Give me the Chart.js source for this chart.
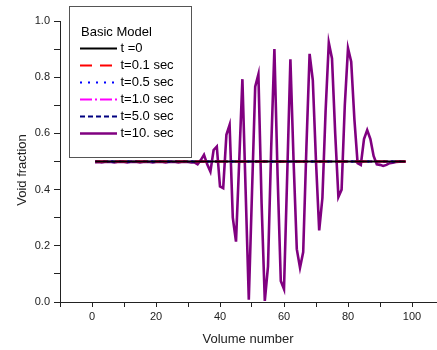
<!DOCTYPE html>
<html>
<head>
<meta charset="utf-8">
<script src="https://cdn.jsdelivr.net/npm/chart.js@4.4.0/dist/chart.umd.min.js"></script>
<style>
  html, body { margin: 0; padding: 0; background: #fff; overflow: hidden; }
  #wrap { width: 437px; height: 350px; }
</style>
</head>
<body>
<div id="wrap"><canvas id="voidChart" width="437" height="350"></canvas></div>
<script>
// data
const seriesLabels = ["t =0", "t=0.1 sec", "t=0.5 sec", "t=1.0 sec", "t=5.0 sec", "t=10. sec"];
const legendTitle = "Basic Model";
const xTitle = "Volume number";
const yTitle = "Void fraction";

// volume numbers 1..98 for the t=10 sec curve
const volumeNumbers = Array.from({ length: 98 }, (_, i) => i + 1);

// the early-time curves are flat lines at 0.5 from volume 1 to volume 98
const flatEnds = [1, 98];
const flatLevel = [0.5, 0.5];

const voidT10 = [
  0.497, 0.498, 0.497, 0.498, 0.499, 0.498, 0.497, 0.498, 0.499, 0.498,
  0.497, 0.498, 0.499, 0.498, 0.497, 0.498, 0.499, 0.498, 0.497, 0.498,
  0.499, 0.498, 0.497, 0.498, 0.499, 0.498, 0.497, 0.498, 0.499, 0.498,
  0.497, 0.497, 0.490, 0.505, 0.524, 0.490, 0.464, 0.541, 0.553, 0.411,
  0.405, 0.595, 0.630, 0.300, 0.215, 0.500, 0.793, 0.400, 0.008, 0.390,
  0.766, 0.810, 0.350, 0.004, 0.127, 0.550, 0.900, 0.450, 0.075, 0.046,
  0.450, 0.864, 0.500, 0.188, 0.122, 0.178, 0.550, 0.883, 0.790, 0.500,
  0.255, 0.370, 0.680, 0.923, 0.867, 0.600, 0.374, 0.400, 0.700, 0.903,
  0.855, 0.650, 0.494, 0.488, 0.580, 0.612, 0.580, 0.520, 0.490, 0.488,
  0.484, 0.488, 0.494, 0.496, 0.498, 0.499, 0.499, 0.499
];

const xTicks = [-10, 0, 10, 20, 30, 40, 50, 60, 70, 80, 90, 100];
const yTicks = [0, 0.1, 0.2, 0.3, 0.4, 0.5, 0.6, 0.7, 0.8, 0.9, 1.0];

// styles
const colors = ["#000000", "#ff0000", "#0000ff", "#ff00ff", "#000080", "#800080"];
const dashes = [[], [12, 8], [2, 6], [12, 3, 2, 3], [5, 3], []];
const widths = [2, 2, 2, 2, 2, 2.6];
const fontFam = "'Liberation Sans', Arial, sans-serif";

function pts(xs, ys) {
  return xs.map((x, i) => ({ x: x, y: ys[i] }));
}

const datasets = seriesLabels.map((label, i) => ({
  label: label,
  data: i === 5 ? pts(volumeNumbers, voidT10) : pts(flatEnds, flatLevel),
  borderColor: colors[i],
  borderDash: dashes[i],
  borderWidth: widths[i],
  pointRadius: 0,
  tension: 0,
  fill: false
}));

const boxLegend = {
  id: "boxLegend",
  afterDraw(chart) {
    const ctx = chart.ctx;
    ctx.save();
    // y axis title
    ctx.fillStyle = "#222";
    ctx.font = "13px " + fontFam;
    ctx.textAlign = "center";
    ctx.textBaseline = "middle";
    ctx.translate(22, 170);
    ctx.rotate(-Math.PI / 2);
    ctx.fillText(yTitle, 0, 0);
    ctx.restore();

    ctx.save();
    ctx.fillStyle = "#fff";
    ctx.fillRect(69.5, 6.5, 122, 151);
    ctx.strokeStyle = "#555";
    ctx.lineWidth = 1;
    ctx.strokeRect(69.5, 6.5, 122, 151);
    ctx.fillStyle = "#000";
    ctx.font = "13px " + fontFam;
    ctx.textBaseline = "middle";
    ctx.fillText(legendTitle, 81, 32);
    seriesLabels.forEach((label, i) => {
      const y = 48.5 + i * 17;
      ctx.beginPath();
      ctx.setLineDash(dashes[i]);
      ctx.strokeStyle = colors[i];
      ctx.lineWidth = widths[i];
      ctx.moveTo(80, y);
      ctx.lineTo(117, y);
      ctx.stroke();
      ctx.setLineDash([]);
      ctx.fillStyle = "#000";
      ctx.fillText(label, 120.5, y);
    });
    ctx.restore();
  }
};

const ctx = document.getElementById("voidChart").getContext("2d");
window.voidChart = new Chart(ctx, {
  type: "line",
  data: { datasets: datasets },
  options: {
    responsive: false,
    animation: false,
    layout: { padding: { top: 21, right: 1, left: 0, bottom: 0 } },
    plugins: {
      legend: { display: false },
      tooltip: { enabled: false }
    },
    scales: {
      x: {
        type: "linear",
        min: -10,
        max: 107.5,
        afterBuildTicks: (scale) => { scale.ticks = xTicks.map(v => ({ value: v })); },
        afterFit: (scale) => { scale.height = 48; },
        grid: { drawOnChartArea: false, tickLength: 5, tickColor: "#222" },
        border: { color: "#222", width: 1 },
        ticks: {
          autoSkip: false,
          maxRotation: 0,
          padding: 3,
          color: "#222",
          font: { family: fontFam, size: 11 },
          callback: (v) => (v % 20 === 0 && v >= 0 ? String(v) : "")
        },
        title: {
          display: true,
          text: xTitle,
          color: "#222",
          font: { family: fontFam, size: 13 },
          padding: { top: 0, bottom: 3 }
        }
      },
      y: {
        min: 0,
        max: 1,
        afterBuildTicks: (scale) => { scale.ticks = yTicks.map(v => ({ value: v })); },
        afterFit: (scale) => { scale.width = 60; },
        grid: { drawOnChartArea: false, tickLength: 6, tickColor: "#222" },
        border: { color: "#222", width: 1 },
        ticks: {
          padding: 4,
          color: "#222",
          font: { family: fontFam, size: 11 },
          callback: (v) => (Math.round(v * 10) % 2 === 0 ? v.toFixed(1) : "")
        },
        title: { display: false }
      }
    }
  },
  plugins: [boxLegend]
});
</script>
</body>
</html>
